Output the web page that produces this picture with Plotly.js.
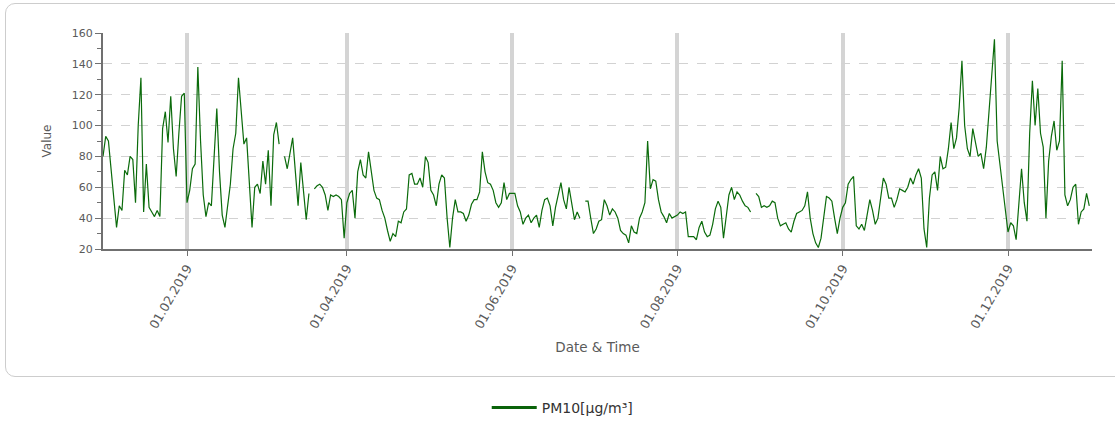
<!DOCTYPE html>
<html>
<head>
<meta charset="utf-8">
<script src="https://cdn.plot.ly/plotly-3.0.1.min.js"></script>
<style>
  html, body { margin: 0; padding: 0; background: #ffffff; overflow: hidden; }
  #frame {
    position: absolute; left: 5px; top: 3px; width: 1125px; height: 374px;
    border: 1.5px solid #cdcdcd; border-radius: 10px; box-sizing: border-box;
  }
  #chart { position: absolute; left: 0; top: 0; width: 1115px; height: 421px; }
</style>
</head>
<body>
<div id="frame"></div>
<div id="chart"></div>
<script>
// Daily PM10 concentration for 2019, one value per day (null = no measurement)
const seriesName = 'PM10[µg/m³]';
const startDate = '2019-01-01';

const pm10Jan = [80, 93, 90, 72, 52, 34, 48, 45, 71, 68, 80, 78, 50, 100, 131, 44, 75, 47, 44, 41,
                 45, 41, 98, 109, 89, 119, 85, 67, 95, 119, 121];
const pm10Feb = [50, 58, 72, 75, 138, 90, 55, 41, 50, 48, 84, 111, 70, 42, 34, 48, 62, 85, 95, 131,
                 110, 88, 92, 60, 34, 60, 62, 56];
const pm10Mar = [77, 62, 84, 48, 94, 102, 88, null, 80, 72, 82, 92, 70, 48, 76, 55, 39, 56, null, 59,
                 61, 62, 60, 55, 45, 55, 54, 55, 54, 52, 27];
const pm10Apr = [50, 56, 58, 40, 70, 78, 68, 66, 83, 72, 58, 53, 52, 45, 40, 32, 25, 30, 28, 38,
                 37, 44, 46, 68, 69, 62, 62, 66, 60, 80];
const pm10May = [76, 58, 55, 48, 62, 68, 66, 40, 21, 40, 52, 44, 44, 43, 38, 42, 49, 52, 52, 57,
                 83, 70, 63, 62, 58, 50, 47, 50, 63, 52, 56];
const pm10Jun = [56, 56, 48, 44, 36, 40, 42, 37, 40, 42, 34, 45, 52, 53, 48, 35, 47, 55, 63, 52,
                 46, 60, 50, 39, 44, 40, null, 51, 51, 40];
const pm10Jul = [30, 33, 38, 39, 52, 48, 42, 46, 44, 40, 32, 30, 29, 24, 35, 31, 30, 40, 44, 50,
                 90, 59, 65, 64, 52, 44, 41, 37, 43, 40, 41];
const pm10Aug = [42, 44, 43, 44, 28, 28, 28, 26, 34, 38, 31, 28, 29, 36, 46, 51, 47, 27, 40, 55,
                 60, 52, 57, 55, 51, 48, 47, 44, null, 56, 54];
const pm10Sep = [47, 48, 47, 48, 51, 50, 40, 35, 36, 37, 33, 31, 38, 43, 44, 45, 48, 57, 40, 30,
                 24, 21, 27, 42, 54, 53, 51, 40, 30, 40];
const pm10Oct = [47, 50, 62, 65, 67, 35, 33, 36, 32, 42, 52, 45, 36, 40, 53, 66, 62, 53, 53, 47,
                 52, 59, 58, 57, 60, 66, 62, 68, 72, 66, 33];
const pm10Nov = [21, 53, 68, 70, 58, 80, 72, 73, 85, 102, 85, 92, 112, 142, 100, 85, 80, 98, 90, 80,
                 82, 72, 86, 108, 131, 156, 90, 75, 62, 46];
const pm10Dec = [31, 37, 35, 26, 50, 72, 50, 38, 95, 129, 100, 124, 95, 86, 40, 77, 93, 103, 84, 90,
                 142, 55, 48, 52, 60, 62, 36, 44, 46, 56, 48];

const tickDates = ['2019-02-01', '2019-04-01', '2019-06-01', '2019-08-01', '2019-10-01', '2019-12-01'];
const xRange = ['2019-01-01', '2020-01-01'];
const yRange = [20, 160];

const pm10 = [].concat(pm10Jan, pm10Feb, pm10Mar, pm10Apr, pm10May, pm10Jun,
                       pm10Jul, pm10Aug, pm10Sep, pm10Oct, pm10Nov, pm10Dec);

// one calendar day per value
const day0 = new Date(startDate + 'T00:00:00Z').getTime();
const dates = pm10.map((_, i) => new Date(day0 + i * 86400000).toISOString().slice(0, 10));

const txt = '#5a5a5a';
const fontFam = 'DejaVu Sans, Verdana, sans-serif';
const lineColor = '#0b6b0b';

const traces = [
  {
    type: 'scatter',
    mode: 'lines',
    x: dates,
    y: pm10,
    name: seriesName,
    showlegend: false,
    connectgaps: false,
    line: { color: lineColor, width: 1.2 }
  },
  // legend entry with the heavier swatch stroke
  {
    type: 'scatter',
    mode: 'lines',
    x: [null],
    y: [null],
    name: seriesName,
    showlegend: true,
    line: { color: '#0a630a', width: 3 }
  }
];

const layout = {
  width: 1115,
  height: 421,
  margin: { l: 103, r: 23, t: 33, b: 172, autoexpand: false },
  paper_bgcolor: 'rgba(0,0,0,0)',
  plot_bgcolor: 'rgba(0,0,0,0)',
  showlegend: true,
  legend: {
    orientation: 'h',
    x: 0.388, xanchor: 'left',
    y: -0.736, yanchor: 'middle',
    itemwidth: 45,
    font: { family: fontFam, size: 14, color: '#333333' }
  },
  xaxis: {
    type: 'date',
    range: xRange,
    tickmode: 'array',
    tickvals: tickDates,
    tickformat: '%d.%m.%Y',
    tickangle: -60,
    tickfont: { family: fontFam, size: 12.5, color: txt },
    ticks: 'outside', ticklen: 5, tickcolor: '#707070',
    showgrid: true, gridcolor: '#d4d4d4', gridwidth: 4,
    showline: true, linecolor: '#707070', linewidth: 2,
    zeroline: false,
    title: { text: 'Date & Time', font: { family: fontFam, size: 13.5, color: txt }, standoff: 12 }
  },
  yaxis: {
    range: yRange,
    tickmode: 'linear', tick0: 20, dtick: 20,
    tickfont: { family: fontFam, size: 11, color: txt },
    ticks: 'outside', ticklen: 6, tickcolor: '#707070',
    minor: { dtick: 10, ticks: 'outside', ticklen: 4, tickcolor: '#707070', showgrid: false },
    showgrid: true, gridcolor: '#d2d2d2', gridwidth: 1, griddash: 'dash',
    showline: true, linecolor: '#707070', linewidth: 2,
    zeroline: false,
    title: { text: 'Value', font: { family: fontFam, size: 12, color: txt }, standoff: 18 }
  }
};

Plotly.newPlot('chart', traces, layout, { displayModeBar: false, staticPlot: true });
</script>
</body>
</html>
